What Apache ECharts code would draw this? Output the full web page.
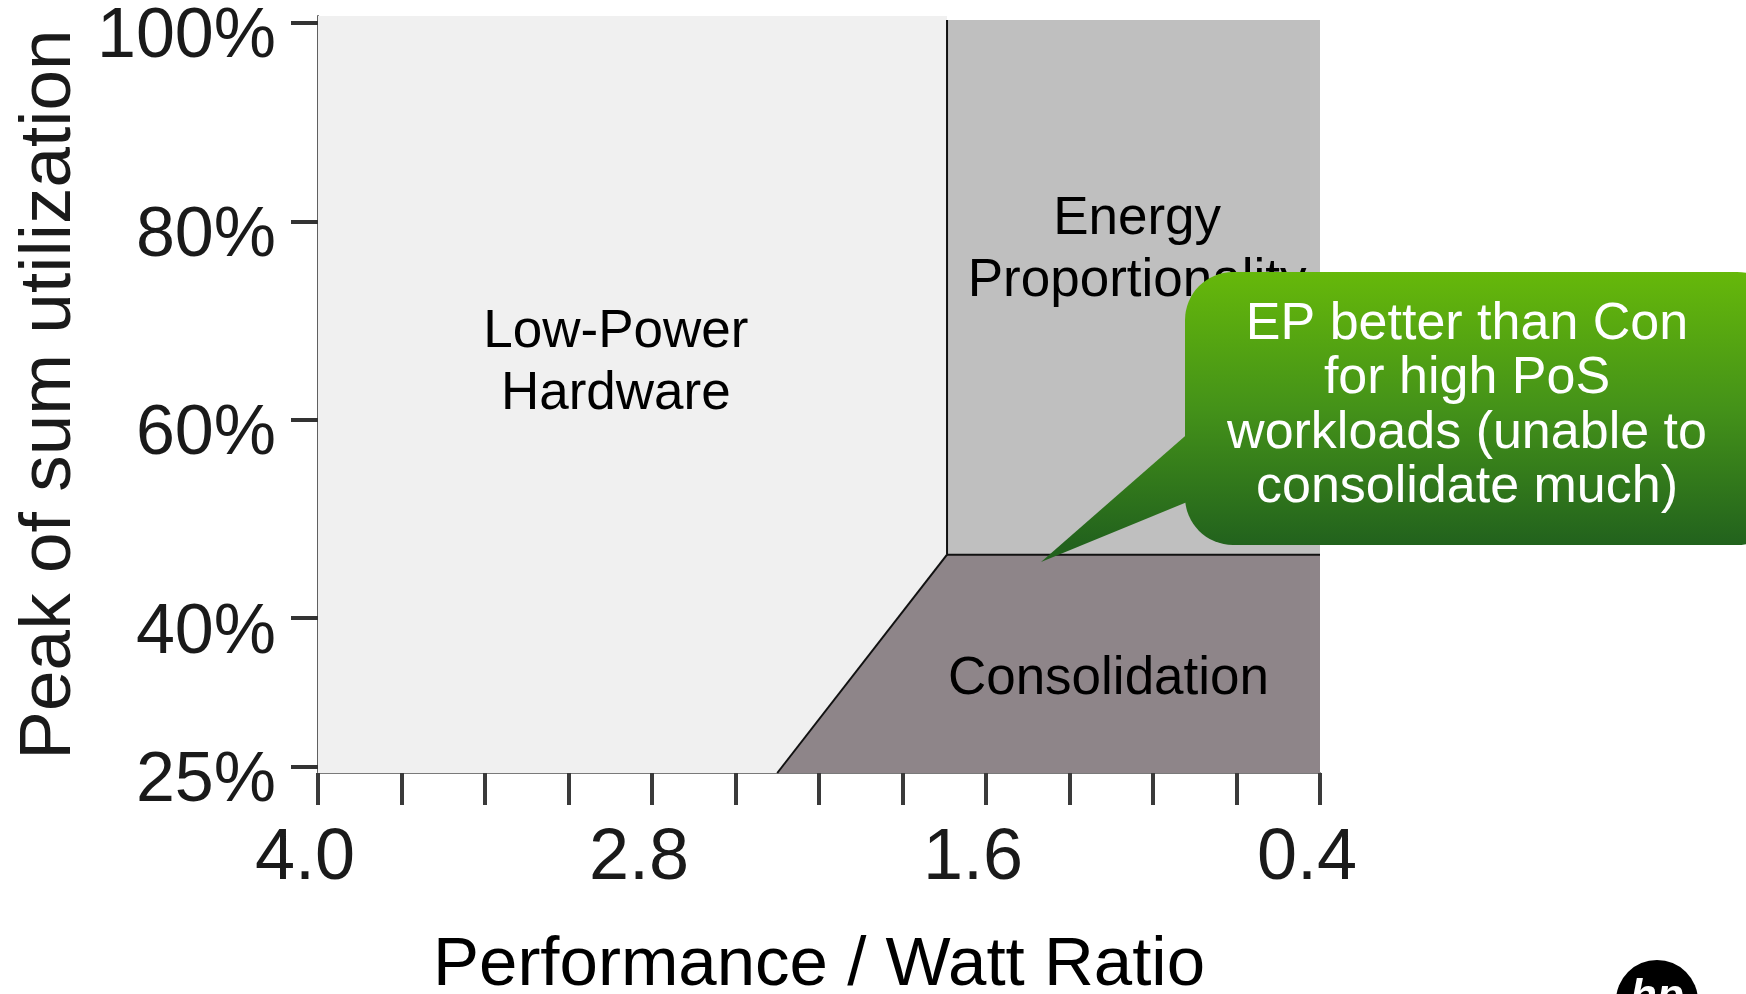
<!DOCTYPE html>
<html>
<head>
<meta charset="utf-8">
<script src="https://cdn.jsdelivr.net/npm/echarts@6/dist/echarts.min.js"></script>
<style>
html,body{margin:0;padding:0;background:#fff;}
#chart{width:1746px;height:994px;}
</style>
</head>
<body>
<div id="chart"></div>
<script>
// ---- data ----
const xTicks = [4.0, 3.7, 3.4, 3.1, 2.8, 2.5, 2.2, 1.9, 1.6, 1.3, 1.0, 0.7, 0.4];
const xLabels = [4.0, 2.8, 1.6, 0.4];
const yTicks = [25, 40, 60, 80, 100];
const lowPowerRegion = [[4.0, 24.4], [4.0, 100.7], [1.74, 100.7], [1.74, 46.4], [2.35, 24.4]];
const energyRegion = [[1.74, 46.4], [1.74, 100.3], [0.4, 100.3], [0.4, 46.4]];
const consolidationRegion = [[2.35, 24.4], [1.74, 46.4], [0.4, 46.4], [0.4, 24.4]];
const verticalBoundary = [[1.74, 46.4], [1.74, 100.3]];
const horizontalBoundary = [[1.74, 46.4], [0.4, 46.4]];
const slantBoundary = [[2.35, 24.4], [1.74, 46.4]];
const regionNames = ['Low-Power\nHardware', 'Energy\nProportionality', 'Consolidation'];
const regionLabelPos = [[2.93, 65.65], [1.057, 77.05], [1.16, 33.85]];
const calloutText = 'EP better than Con\nfor high PoS\nworkloads (unable to\nconsolidate much)';

const FONT = '"Liberation Sans", Arial, Helvetica, sans-serif';

function polygonSeries(name, points, color) {
  return {
    type: 'custom', name: name, data: points, encode: {x: 0, y: 1}, z: 2, silent: true,
    renderItem: function (params, api) {
      if (params.dataIndex !== 0) return null;
      return {type: 'polygon', shape: {points: points.map(p => api.coord(p))}, style: {fill: color}};
    }
  };
}
function lineSeries(points, color, width) {
  return {
    type: 'line', data: points, symbol: 'none', silent: true, z: 4,
    lineStyle: {color: color, width: width}, animation: false
  };
}
const greenFill = {type: 'linear', x: 0, y: 272, x2: 0, y2: 545, global: true,
  colorStops: [{offset: 0, color: '#66b80a'}, {offset: 0.5, color: '#449219'}, {offset: 1, color: '#22621d'}]};

const chart = echarts.init(document.getElementById('chart'), null, {renderer: 'canvas'});
chart.setOption({
  animation: false,
  backgroundColor: '#ffffff',
  grid: {left: 318, right: 426, top: 16, bottom: 221, containLabel: false, outerBoundsMode: 'none'},
  xAxis: {
    type: 'value', inverse: true, min: 0.4, max: 4.0,
    name: 'Performance / Watt Ratio', nameLocation: 'middle', nameGap: 158,
    nameTextStyle: {fontSize: 69, color: '#000', fontFamily: FONT},
    axisLine: {show: true, lineStyle: {color: '#7a7a7a', width: 2}},
    axisTick: {show: true, customValues: xTicks, length: 32, lineStyle: {color: '#3a3a3a', width: 4}},
    axisLabel: {customValues: xLabels, formatter: v => Number(v).toFixed(1), fontSize: 72, margin: 50,
      color: '#1a1a1a', fontFamily: FONT, padding: [0, 26, 0, 0]},
    splitLine: {show: false}
  },
  yAxis: {
    type: 'value', min: 24.4, max: 100.7,
    name: 'Peak of sum utilization', nameLocation: 'middle', nameRotate: 90, nameGap: 226,
    nameTextStyle: {fontSize: 73, color: '#1a1a1a', fontFamily: FONT},
    axisLine: {show: true, lineStyle: {color: '#606060', width: 2}},
    axisTick: {show: true, customValues: yTicks, length: 27, lineStyle: {color: '#333', width: 4}},
    axisLabel: {customValues: yTicks, formatter: '{value}%', fontSize: 70, margin: 42,
      color: '#1a1a1a', fontFamily: FONT, verticalAlign: 'top', lineHeight: 30},
    splitLine: {show: false}
  },
  series: [
    polygonSeries('Low-Power Hardware', lowPowerRegion, '#f0f0f0'),
    polygonSeries('Energy Proportionality', energyRegion, '#bfbfbf'),
    polygonSeries('Consolidation', consolidationRegion, '#8e8589'),
    lineSeries(verticalBoundary, '#111', 2),
    lineSeries(horizontalBoundary, '#111', 2),
    lineSeries(slantBoundary, '#111', 2),
    {
      type: 'custom', data: regionLabelPos, encode: {x: 0, y: 1}, z: 5, silent: true,
      renderItem: function (params, api) {
        const p = api.coord([api.value(0), api.value(1)]);
        return {type: 'text', x: p[0], y: p[1],
          style: {text: regionNames[params.dataIndex], fill: '#000', font: '53px ' + FONT,
            align: 'center', verticalAlign: 'middle', lineHeight: 62}};
      }
    }
  ],
  graphic: [
    {type: 'polygon', z: 100, zlevel: 1, shape: {points: [[1192, 430], [1041, 562], [1192, 500]]},
      style: {fill: greenFill}},
    {type: 'rect', z: 101, zlevel: 1, shape: {x: 1185, y: 272, width: 600, height: 273, r: 48},
      style: {fill: greenFill}},
    {type: 'text', z: 102, zlevel: 1, x: 1467, y: 406,
      style: {text: calloutText, fill: '#fff', font: '52px ' + FONT, align: 'center',
        verticalAlign: 'middle', lineHeight: 54.5}},
    {type: 'circle', z: 100, zlevel: 1, shape: {cx: 1657, cy: 1001, r: 41}, style: {fill: '#000'}},
    {type: 'text', z: 101, zlevel: 1, x: 1657, y: 998, style: {text: 'hp', fill: '#fff',
      font: 'italic bold 44px ' + FONT, align: 'center', verticalAlign: 'middle'}}
  ]
});
</script>
</body>
</html>
